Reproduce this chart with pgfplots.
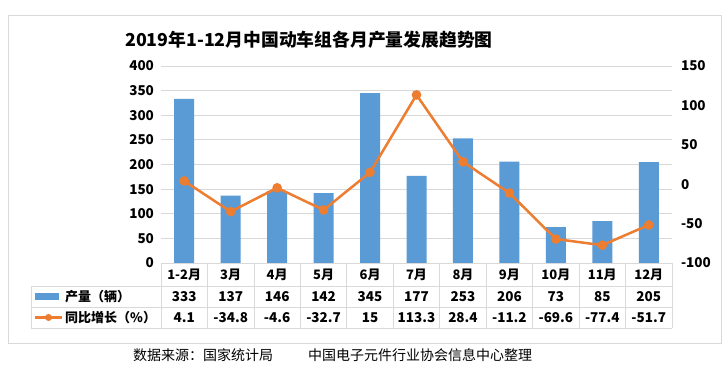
\documentclass[border=0pt]{standalone}
\usepackage{pgfplots}
\pgfplotsset{compat=1.18}
\usepackage{fontspec}
\setmainfont{Noto Sans CJK SC}
\definecolor{barblue}{HTML}{5B9BD5}
\definecolor{lineorange}{HTML}{ED7D31}
\definecolor{gridgray}{HTML}{D9D9D9}
\begin{document}
\begin{tikzpicture}[x=1pt,y=1pt]
\useasboundingbox[fill=white] (0,0) rectangle (728,369);
\draw[gridgray, line width=0.8pt] (8,26) rectangle (721,354);
\node[anchor=west, inner sep=0pt, font=\fontsize{17.8}{20}\selectfont\bfseries] at (125,329) {2019年1-12月中国动车组各月产量发展趋势图};

\begin{axis}[at={(161pt,106pt)}, anchor=south west, scale only axis,
  width=511pt, height=197pt,
  xmin=-0.5, xmax=10.5, ymin=0, ymax=400,
  ytick={0,50,...,400},
  xtick={0,...,10},
  xticklabels={1-2月,3月,4月,5月,6月,7月,8月,9月,10月,11月,12月},
  axis line style={draw=none}, major tick length=0pt,
  ymajorgrids, grid style={gridgray, line width=0.8pt},
  /pgf/number format/assume math mode=true,
  tick label style={font=\fontsize{13.5}{16}\selectfont\bfseries},
  yticklabel style={xshift=-3.5pt},
  xticklabel style={anchor=center, yshift=-11.5pt, font=\fontsize{13}{16}\selectfont\bfseries},
  clip=false]
\addplot[ybar, bar width=20pt, fill=barblue, draw=none] coordinates {
  (0,333) (1,137) (2,146) (3,142) (4,345) (5,177) (6,253) (7,206) (8,73) (9,85) (10,205)};
\end{axis}

\begin{axis}[at={(161pt,106pt)}, anchor=south west, scale only axis,
  width=511pt, height=197pt,
  xmin=-0.5, xmax=10.5, ymin=-100, ymax=150,
  ytick={-100,-50,...,150},
  axis y line*=right, axis x line=none,
  axis line style={draw=none}, major tick length=0pt,
  /pgf/number format/assume math mode=true,
  tick label style={font=\fontsize{13.5}{16}\selectfont\bfseries},
  yticklabel style={xshift=5.5pt},
  clip=false]
\addplot[lineorange, line width=2.5pt, mark=*, mark size=3.5pt,
  mark options={fill=lineorange, draw=none}] coordinates {
  (0,4.1) (1,-34.8) (2,-4.6) (3,-32.7) (4,15) (5,113.3) (6,28.4) (7,-11.2) (8,-69.6) (9,-77.4) (10,-51.7)};
\end{axis}

% data table
\foreach \k in {0,...,11} {
  \draw[gridgray, line width=0.8pt] ({161+46.4545*\k},106) -- ({161+46.4545*\k},41);
}
\draw[gridgray, line width=0.8pt] (161,106) -- (672,106);
\draw[gridgray, line width=0.8pt] (31,83) -- (672,83);
\draw[gridgray, line width=0.8pt] (31,62) -- (672,62);
\draw[gridgray, line width=0.8pt] (31,41) -- (672,41);
\draw[gridgray, line width=0.8pt] (31,83) -- (31,41);

\foreach \v [count=\i from 0] in {333,137,146,142,345,177,253,206,73,85,205} {
  \node[font=\fontsize{13.5}{16}\selectfont\bfseries] at ({161+46.4545*(\i+0.5)},72.5) {\v};
}
\foreach \v [count=\i from 0] in {4.1,-34.8,-4.6,-32.7,15,113.3,28.4,-11.2,-69.6,-77.4,-51.7} {
  \node[font=\fontsize{13.5}{16}\selectfont\bfseries] at ({161+46.4545*(\i+0.5)},51.5) {\v};
}

% legend
\fill[barblue] (35,69) rectangle (59,76);
\node[anchor=west, inner sep=0pt, font=\fontsize{13}{16}\selectfont\bfseries] at (65,72.5) {产量（辆）};
\draw[lineorange, line width=2.5pt] (35,51.5) -- (62,51.5);
\fill[lineorange] (48.5,51.5) circle (3.5);
\node[anchor=west, inner sep=0pt, font=\fontsize{13}{16}\selectfont\bfseries] at (65,51.5) {同比增长（\%）};

% source
\node[anchor=west, inner sep=0pt, font=\fontsize{14}{16}\selectfont] at (133,14) {数据来源：国家统计局};
\node[anchor=west, inner sep=0pt, font=\fontsize{14}{16}\selectfont] at (308,14) {中国电子元件行业协会信息中心整理};
\end{tikzpicture}
\end{document}
